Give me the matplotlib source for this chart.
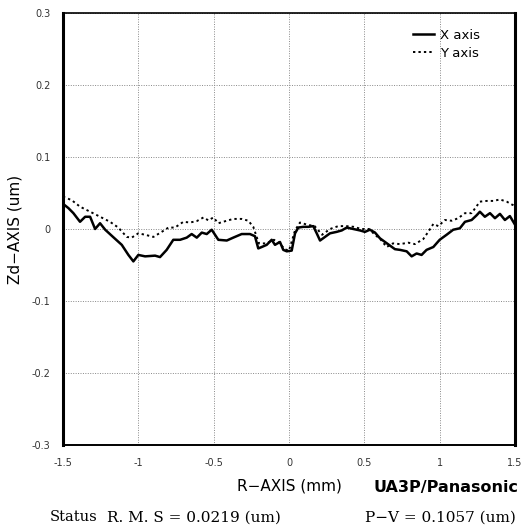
import matplotlib
matplotlib.use('Agg')
import matplotlib.pyplot as plt

# X axis profile (solid)
x_axis_r = [-1.5, -1.464, -1.431, -1.387, -1.353, -1.32, -1.287, -1.254, -1.22, -1.168,
            -1.11, -1.066, -1.033, -1.0, -0.955, -0.889, -0.856, -0.812, -0.768, -0.723,
            -0.679, -0.646, -0.612, -0.579, -0.546, -0.513, -0.491, -0.469, -0.413, -0.37,
            -0.314, -0.259, -0.226, -0.204, -0.181, -0.148, -0.115, -0.093, -0.06, -0.038,
            -0.015, 0.018, 0.04, 0.062, 0.095, 0.128, 0.161, 0.184, 0.206, 0.239,
            0.272, 0.316, 0.35, 0.383, 0.427, 0.471, 0.504, 0.537, 0.571, 0.604,
            0.637, 0.67, 0.703, 0.737, 0.781, 0.814, 0.847, 0.88, 0.913, 0.958,
            1.0, 1.046, 1.09, 1.134, 1.168, 1.212, 1.245, 1.267, 1.30, 1.334,
            1.367, 1.40, 1.433, 1.466, 1.5]
x_axis_z = [0.035, 0.029, 0.022, 0.010, 0.017, 0.017, 0.0, 0.008, -0.001, -0.011,
            -0.022, -0.036, -0.045, -0.036, -0.038, -0.037, -0.039, -0.029, -0.015, -0.015,
            -0.012, -0.007, -0.012, -0.005, -0.007, -0.001, -0.008, -0.015, -0.016, -0.012,
            -0.007, -0.007, -0.010, -0.027, -0.025, -0.022, -0.015, -0.022, -0.018, -0.029,
            -0.031, -0.030, -0.006, 0.002, 0.003, 0.003, 0.004, -0.006, -0.016, -0.011,
            -0.006, -0.004, -0.002, 0.002, 0.0, -0.002, -0.004, -0.001, -0.005, -0.013,
            -0.018, -0.023, -0.028, -0.029, -0.031, -0.038, -0.034, -0.036, -0.029, -0.025,
            -0.015, -0.008, -0.001, 0.001, 0.010, 0.0125, 0.019, 0.024, 0.017, 0.022,
            0.015, 0.021, 0.0125, 0.018, 0.006]

# Y axis profile (dotted)
y_axis_r = [-1.5, -1.442, -1.387, -1.32, -1.254, -1.188, -1.133, -1.077, -1.044, -1.0,
            -0.955, -0.9, -0.845, -0.8, -0.757, -0.701, -0.657, -0.612, -0.568, -0.535,
            -0.502, -0.469, -0.413, -0.37, -0.314, -0.27, -0.237, -0.2, -0.15, -0.1,
            -0.06, -0.03, 0.0, 0.04, 0.073, 0.12, 0.17, 0.22, 0.272, 0.327,
            0.38, 0.43, 0.48, 0.53, 0.571, 0.61, 0.648, 0.69, 0.737, 0.792,
            0.836, 0.891, 0.924, 0.958, 0.991, 1.035, 1.08, 1.123, 1.168, 1.212,
            1.267, 1.312, 1.356, 1.40, 1.445, 1.488, 1.5]
y_axis_z = [0.045, 0.040, 0.031, 0.024, 0.017, 0.010, 0.002, -0.011, -0.012, -0.006,
            -0.008, -0.011, -0.004, 0.002, 0.002, 0.010, 0.009, 0.011, 0.016, 0.012,
            0.016, 0.008, 0.0115, 0.014, 0.014, 0.0115, 0.003, -0.02, -0.02, -0.015,
            -0.02, -0.028, -0.030, -0.002, 0.009, 0.006, 0.004, -0.008, 0.0, 0.004,
            0.004, 0.003, 0.0, 0.0, -0.008, -0.015, -0.025, -0.02, -0.021, -0.019,
            -0.021, -0.014, -0.004, 0.007, 0.004, 0.0125, 0.0115, 0.015, 0.022, 0.022,
            0.038, 0.039, 0.039, 0.041, 0.038, 0.033, 0.030]

x_ticks = [-1.5, -1, -0.5, 0, 0.5, 1, 1.5]
x_tick_labels = ['-1.5', '-1', '-0.5', '0', '0.5', '1', '1.5']
y_ticks = [-0.3, -0.2, -0.1, 0, 0.1, 0.2, 0.3]
y_tick_labels = ['-0.3', '-0.2', '-0.1', '0', '0.1', '0.2', '0.3']

status_text = 'Status'
rms_text = 'R. M. S = 0.0219 (um)'
pv_text = 'P\u2212V = 0.1057 (um)'

fig = plt.figure(figsize=(5.24, 5.32), dpi=100)
ax = fig.add_axes([63 / 524, 87 / 532, 452 / 524, 432 / 532])

ax.plot(x_axis_r, x_axis_z, color='black', linewidth=1.8, label='X axis')
ax.plot(y_axis_r, y_axis_z, color='black', linewidth=1.4, linestyle=(0, (1.2, 1.6)),
        label='Y axis')

ax.set_xlim(-1.5, 1.5)
ax.set_ylim(-0.3, 0.3)
ax.set_xticks(x_ticks)
ax.set_xticklabels(x_tick_labels)
ax.set_yticks(y_ticks)
ax.set_yticklabels(y_tick_labels)
ax.tick_params(length=0, labelsize=7, colors='#333333', pad=9)
ax.grid(True, color='#888888', linestyle=(0, (1, 1.5)), linewidth=0.7)

for side, lw in (('left', 2.2), ('right', 2.2), ('top', 1.2), ('bottom', 1.4)):
    ax.spines[side].set_linewidth(lw)
    ax.spines[side].set_color('black')

ax.set_ylabel('Zd\u2212AXIS (um)', fontsize=11)
ax.yaxis.set_label_coords(-0.09, 0.5)
ax.set_xlabel('R\u2212AXIS (mm)', fontsize=11, labelpad=8)

ax.legend(loc='upper right', bbox_to_anchor=(0.935, 0.975), frameon=False, fontsize=9.5,
          handlelength=1.6, handletextpad=0.5, borderaxespad=0.0, labelspacing=0.35)

fig.text(0.99, 87 / 532 - 0.08, 'UA3P/Panasonic', fontsize=11.5, fontweight='bold',
         family='Liberation Sans Narrow', ha='right', va='center')
base_y = 0.02
fig.text(50 / 524, base_y, status_text, fontsize=10.5, family='DejaVu Serif',
         ha='left', va='baseline')
fig.text(107 / 524, base_y, rms_text, fontsize=11, family='DejaVu Serif',
         ha='left', va='baseline')
fig.text(516 / 524, base_y, pv_text, fontsize=11, family='DejaVu Serif',
         ha='right', va='baseline')

fig.savefig('out.png', dpi=100, facecolor='white')
